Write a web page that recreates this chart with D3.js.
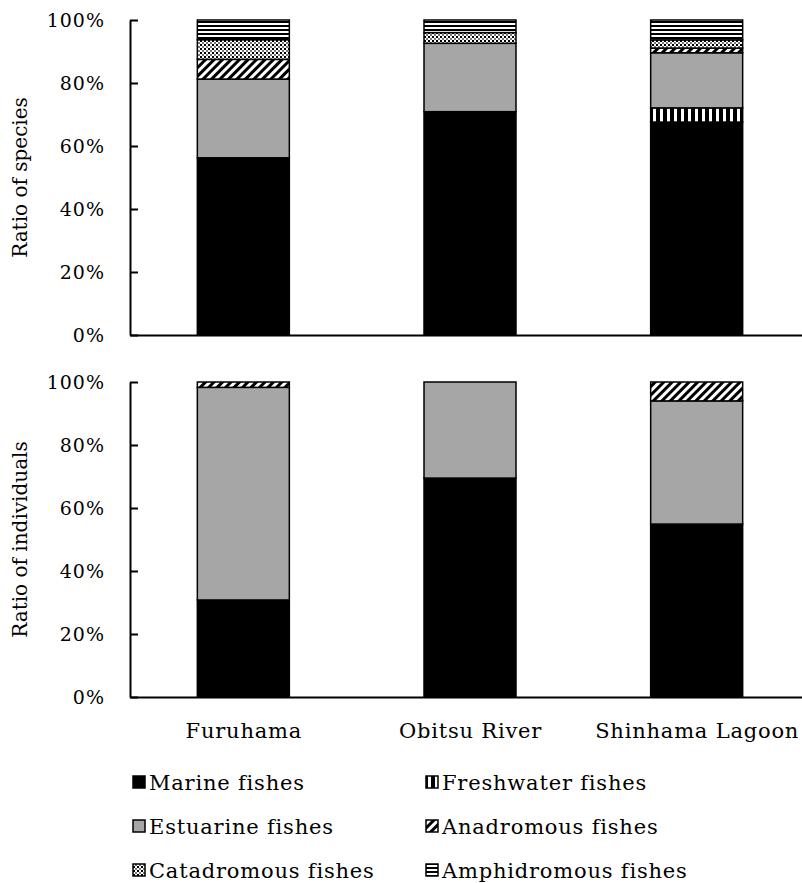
<!DOCTYPE html>
<html>
<head>
<meta charset="utf-8">
<script src="https://cdn.jsdelivr.net/npm/d3@7/dist/d3.min.js"></script>
<style>
  html, body { margin: 0; padding: 0; background: #fff; }
  svg { display: block; }
  text { font-family: "DejaVu Serif", serif; fill: #000; }
</style>
</head>
<body>
<svg id="chart" width="802" height="883"></svg>
<script>
// Sites sampled
const sites = ["Furuhama", "Obitsu River", "Shinhama Lagoon"];

// Life-history guilds, stacked bottom to top
const guilds = ["Marine fishes", "Freshwater fishes", "Estuarine fishes",
                "Anadromous fishes", "Catadromous fishes", "Amphidromous fishes"];

// Ratio of species (%) per site
const speciesMarine       = [56.25, 70.9, 67.6];
const speciesFreshwater   = [0, 0, 4.5];
const speciesEstuarine    = [25.0, 21.7, 17.5];
const speciesAnadromous   = [6.25, 0, 1.5];
const speciesCatadromous  = [6.25, 3.4, 2.6];
const speciesAmphidromous = [6.25, 4.0, 6.3];

// Ratio of individuals (%) per site
const indivMarine       = [30.8, 69.5, 54.9];
const indivFreshwater   = [0, 0, 0];
const indivEstuarine    = [67.5, 30.5, 39.1];
const indivAnadromous   = [1.7, 0, 6.0];
const indivCatadromous  = [0, 0, 0];
const indivAmphidromous = [0, 0, 0];

const yTicks = [0, 20, 40, 60, 80, 100];

const svg = d3.select("#chart");

// Fill patterns for each guild
const defs = svg.append("defs");

let p = defs.append("pattern").attr("id", "pat-fresh").attr("patternUnits", "userSpaceOnUse")
  .attr("width", 7).attr("height", 7);
p.append("rect").attr("width", 7).attr("height", 7).attr("fill", "#000");
p.append("rect").attr("x", 2).attr("width", 3).attr("height", 7).attr("fill", "#fff");

p = defs.append("pattern").attr("id", "pat-anad").attr("patternUnits", "userSpaceOnUse")
  .attr("width", 6).attr("height", 6).attr("patternTransform", "rotate(45)");
p.append("rect").attr("width", 6).attr("height", 6).attr("fill", "#fff");
p.append("rect").attr("width", 3).attr("height", 6).attr("fill", "#000");

p = defs.append("pattern").attr("id", "pat-cata").attr("patternUnits", "userSpaceOnUse")
  .attr("width", 4).attr("height", 4);
p.append("rect").attr("width", 4).attr("height", 4).attr("fill", "#fff");
p.append("rect").attr("width", 2).attr("height", 2).attr("fill", "#000");
p.append("rect").attr("x", 2).attr("y", 2).attr("width", 2).attr("height", 2).attr("fill", "#777");

p = defs.append("pattern").attr("id", "pat-amph").attr("patternUnits", "userSpaceOnUse")
  .attr("width", 4).attr("height", 4);
p.append("rect").attr("width", 4).attr("height", 4).attr("fill", "#fff");
p.append("rect").attr("y", 1).attr("width", 4).attr("height", 2).attr("fill", "#000");

const guildFill = d3.scaleOrdinal()
  .domain(guilds)
  .range(["#000", "url(#pat-fresh)", "#a6a6a6", "url(#pat-anad)", "url(#pat-cata)", "url(#pat-amph)"]);

const x = d3.scalePoint().domain(sites).range([130, 810]).padding(0.5);
const barW = 92;

function buildRows(arrays) {
  return sites.map((s, i) => {
    const row = { site: s };
    guilds.forEach((g, k) => { row[g] = arrays[k][i]; });
    return row;
  });
}

const stack = d3.stack().keys(guilds);

function drawPanel(top, bottom, arrays, title, showLabels) {
  const y = d3.scaleLinear().domain([0, 100]).range([bottom, top]);
  const g = svg.append("g");
  const series = stack(buildRows(arrays));

  g.selectAll("g.layer")
    .data(series)
    .join("g")
    .attr("class", "layer")
    .attr("fill", d => guildFill(d.key))
    .selectAll("rect")
    .data(d => d.filter(v => v[1] - v[0] > 0))
    .join("rect")
    .attr("x", d => x(d.data.site) - barW / 2)
    .attr("width", barW)
    .attr("y", d => y(d[1]))
    .attr("height", d => y(d[0]) - y(d[1]))
    .attr("stroke", "#000")
    .attr("stroke-width", 1.5);

  // Y axis with inward ticks
  const ya = g.append("g").attr("transform", "translate(130,0)")
    .call(d3.axisLeft(y).tickValues(yTicks).tickFormat(d => d + "%")
      .tickSizeInner(-8).tickSizeOuter(0).tickPadding(25));
  ya.selectAll("path, line").attr("stroke", "#000").attr("stroke-width", 2);
  ya.selectAll("text").style("font-family", "DejaVu Serif, serif")
    .style("font-size", "19px").style("letter-spacing", "1px").attr("fill", "#000");

  // X axis baseline
  const xa = g.append("g").attr("transform", `translate(0,${bottom})`)
    .call(d3.axisBottom(x).tickSize(0).tickPadding(26)
      .tickFormat(showLabels ? (d => d) : () => ""));
  xa.select("path").attr("stroke", "#000").attr("stroke-width", 2);
  xa.selectAll("text").style("font-family", "DejaVu Serif, serif")
    .style("font-size", "21px").style("letter-spacing", "0.8px").attr("fill", "#000");

  g.append("text")
    .attr("transform", `translate(27,${(top + bottom) / 2}) rotate(-90)`)
    .attr("text-anchor", "middle")
    .style("font-size", "20px")
    .text(title);
}

drawPanel(20, 335,
  [speciesMarine, speciesFreshwater, speciesEstuarine, speciesAnadromous, speciesCatadromous, speciesAmphidromous],
  "Ratio of species", false);
drawPanel(382, 697,
  [indivMarine, indivFreshwater, indivEstuarine, indivAnadromous, indivCatadromous, indivAmphidromous],
  "Ratio of individuals", true);

// Legend: two columns, three rows
const legend = svg.append("g");
const items = legend.selectAll("g")
  .data(guilds)
  .join("g")
  .attr("transform", (d, i) => `translate(${i % 2 === 0 ? 133 : 426},${782 + Math.floor(i / 2) * 44})`);
items.append("rect")
  .attr("x", 0).attr("y", -6).attr("width", 12).attr("height", 12)
  .attr("fill", d => guildFill(d))
  .attr("stroke", "#000").attr("stroke-width", 1.5);
items.append("text")
  .attr("x", 16).attr("y", 0).attr("dy", "0.36em")
  .style("font-size", "21px").style("letter-spacing", "0.8px")
  .text(d => d);
</script>
</body>
</html>
